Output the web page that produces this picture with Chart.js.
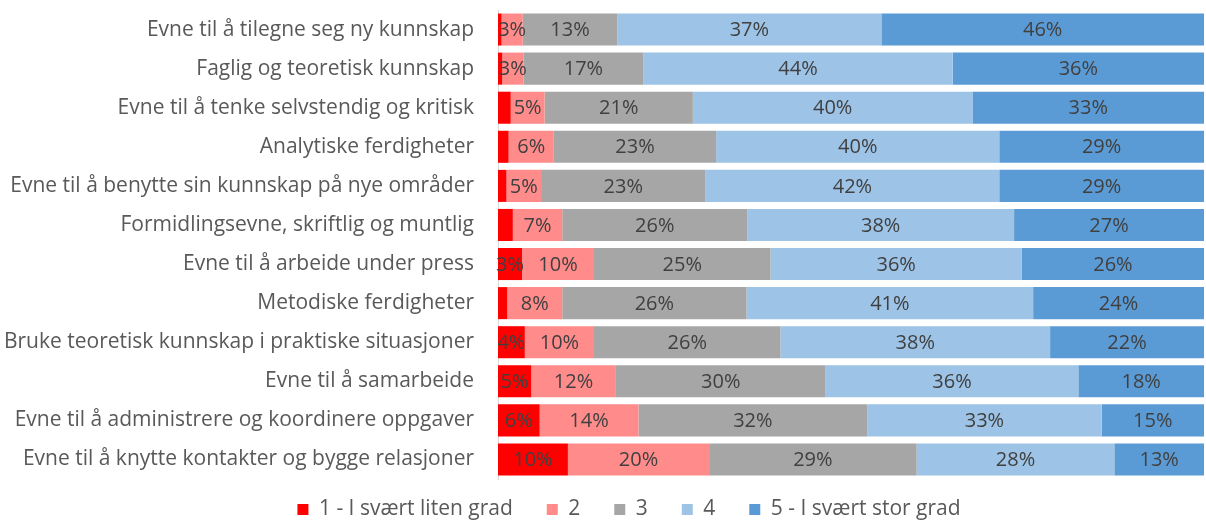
<!DOCTYPE html>
<html>
<head>
<meta charset="utf-8">
<script src="https://cdn.jsdelivr.net/npm/chart.js@4"></script>
<style>
  html, body { margin: 0; padding: 0; background: #fff; }
  #wrap { width: 1206px; height: 521px; position: relative; }
</style>
</head>
<body>
<div id="wrap"><canvas id="chart"></canvas></div>
<script>
const categories = [
  "Evne til å tilegne seg ny kunnskap",
  "Faglig og teoretisk kunnskap",
  "Evne til å tenke selvstendig og kritisk",
  "Analytiske ferdigheter",
  "Evne til å benytte sin kunnskap på nye områder",
  "Formidlingsevne, skriftlig og muntlig",
  "Evne til å arbeide under press",
  "Metodiske ferdigheter",
  "Bruke teoretisk kunnskap i praktiske situasjoner",
  "Evne til å samarbeide",
  "Evne til å administrere og koordinere oppgaver",
  "Evne til å knytte kontakter og bygge relasjoner"
];
const seriesNames = ["1 - I svært liten grad", "2", "3", "4", "5 - I svært stor grad"];

const grad1 = [0.5, 0.6, 1.8, 1.5, 1.2, 2.1, 3.4, 1.3, 3.8, 4.7, 5.9, 9.9];
const grad2 = [3.0, 3.0, 4.8, 6.4, 4.9, 7.0, 10.2, 7.8, 9.8, 12.0, 14.0, 20.0];
const grad3 = [13.4, 17.0, 21.0, 23.0, 23.3, 26.2, 25.0, 26.1, 26.4, 29.7, 32.4, 29.4];
const grad4 = [37.4, 43.8, 39.6, 40.1, 41.6, 37.8, 35.6, 40.6, 38.2, 35.8, 33.2, 28.0];
const grad5 = [45.7, 35.6, 32.8, 29.0, 29.0, 26.9, 25.8, 24.2, 21.8, 17.8, 14.5, 12.7];

const colors = ["#ff0000", "#ff8b8b", "#a6a6a6", "#9dc3e6", "#5b9bd5"];
const FONT = "Open Sans";

// draws the % labels in the middle of each segment
const barLabels = {
  id: "barLabels",
  afterDatasetsDraw(chart) {
    const ctx = chart.ctx;
    ctx.save();
    ctx.font = "20px '" + FONT + "'";
    ctx.fillStyle = "#404040";
    ctx.textAlign = "center";
    ctx.textBaseline = "middle";
    chart.data.datasets.forEach((ds, i) => {
      chart.getDatasetMeta(i).data.forEach((bar, j) => {
        const v = ds.data[j];
        if (v < 2.5) return;
        const p = bar.getProps(["x", "y", "base"], true);
        ctx.fillText(Math.round(v) + "%", (p.x + p.base) / 2, p.y + 1);
      });
    });
    ctx.restore();
  }
};

// excel puts the legend a bit right of the canvas middle, close to the bars
const legendShift = {
  id: "legendShift",
  afterLayout(chart) {
    const lg = chart.legend;
    lg.left += 27;
    lg.right += 27;
    lg.top -= 14;
  }
};

const allSeries = [grad1, grad2, grad3, grad4, grad5];

new Chart(document.getElementById("chart"), {
  type: "bar",
  data: {
    labels: categories,
    datasets: allSeries.map((d, i) => ({
      label: seriesNames[i],
      data: d,
      backgroundColor: colors[i],
      borderWidth: 0,
      categoryPercentage: 1,
      barPercentage: 0.82
    }))
  },
  options: {
    indexAxis: "y",
    responsive: true,
    maintainAspectRatio: false,
    animation: false,
    layout: { padding: { top: 10, right: 2, left: 0, bottom: 0 } },
    scales: {
      x: {
        stacked: true,
        min: 0,
        max: 100,
        grid: { display: false },
        border: { display: false },
        ticks: { display: false },
        afterFit: s => { s.height = 0; }
      },
      y: {
        stacked: true,
        grid: { display: false },
        border: { color: "#d9d9d9", width: 1 },
        ticks: {
          color: "#595959",
          font: { family: FONT, size: 21 },
          padding: 16,
          autoSkip: false
        },
        afterFit: s => {
          s.width = 498;
          s.paddingTop = 0;
          s.paddingBottom = 0;
        }
      }
    },
    plugins: {
      legend: {
        position: "bottom",
        maxHeight: 42,
        labels: {
          boxWidth: 11,
          boxHeight: 11,
          padding: 34,
          color: "#595959",
          font: { family: FONT, size: 21 }
        }
      },
      tooltip: { enabled: false }
    }
  },
  plugins: [barLabels, legendShift]
});
</script>
</body>
</html>
